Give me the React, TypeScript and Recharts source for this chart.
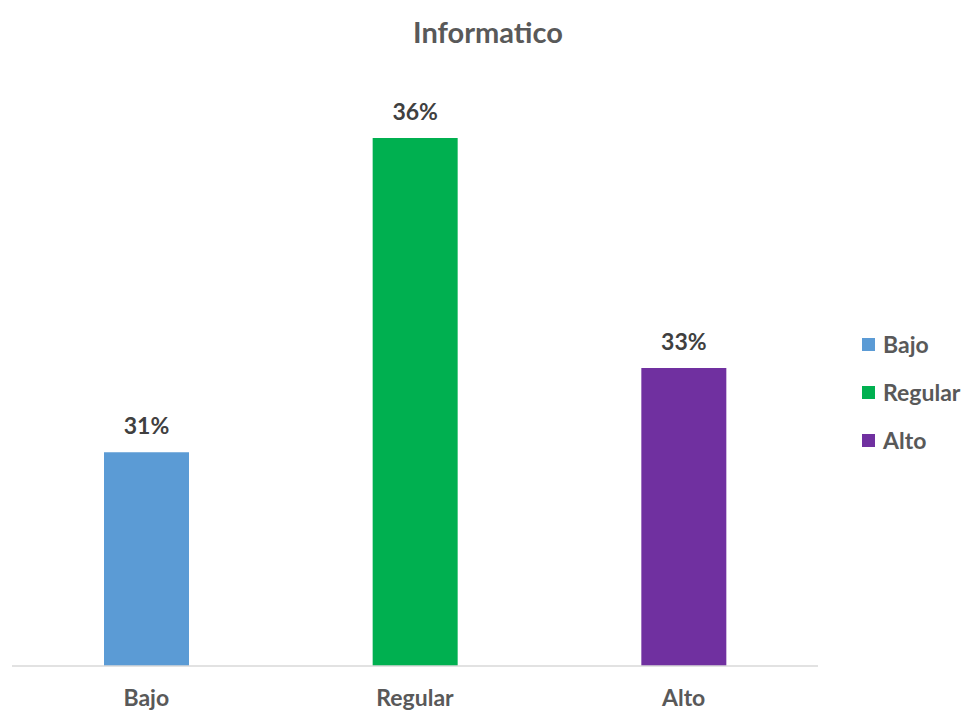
import React from 'react';
import { BarChart, Bar, XAxis, YAxis, Cell, LabelList } from 'recharts';

const categories = ['Bajo', 'Regular', 'Alto'];
const values = [0.313, 0.3615, 0.326];
const colors = ['#5B9BD5', '#00B050', '#7030A0'];
const title = 'Informatico';

const data = categories.map((c, i) => ({ name: c, value: values[i] }));

const FONT = 'Lato, "Open Sans", sans-serif';

export default function App() {
  return (
    <div style={{ position: 'absolute', left: 0, top: 0, width: 968, height: 713, background: '#fff', fontFamily: FONT }}>
      <div style={{ position: 'absolute', left: 0, top: 14, width: 976, textAlign: 'center', fontSize: 29, fontWeight: 700, color: '#595959' }}>
        {title}
      </div>
      <BarChart width={968} height={713} data={data} margin={{ top: 83, right: 150, bottom: 0, left: 12 }}>
        <YAxis hide domain={[0.28, 0.37]} />
        <XAxis
          dataKey="name"
          height={47}
          axisLine={{ stroke: '#D9D9D9', strokeWidth: 1.5 }}
          tickLine={false}
          tickMargin={18}
          tick={{ fontSize: 23, fontWeight: 700, fill: '#595959', fontFamily: FONT }}
        />
        <Bar dataKey="value" barSize={85} isAnimationActive={false}>
          {data.map((d, i) => (
            <Cell key={d.name} fill={colors[i]} />
          ))}
          <LabelList
            dataKey="value"
            position="top"
            offset={18}
            formatter={(v: any) => `${Math.round(Number(v) * 100)}%`}
            style={{ fontSize: 23, fontWeight: 700, fill: '#404040', fontFamily: FONT }}
          />
        </Bar>
      </BarChart>
      {categories.map((c, i) => (
        <div key={c} style={{ position: 'absolute', left: 862, top: 330 + i * 48, display: 'flex', alignItems: 'center', fontSize: 23, fontWeight: 700, color: '#595959', whiteSpace: 'nowrap' }}>
          <span style={{ display: 'inline-block', width: 13, height: 13, background: colors[i], marginRight: 8 }} />
          {c}
        </div>
      ))}
    </div>
  );
}
